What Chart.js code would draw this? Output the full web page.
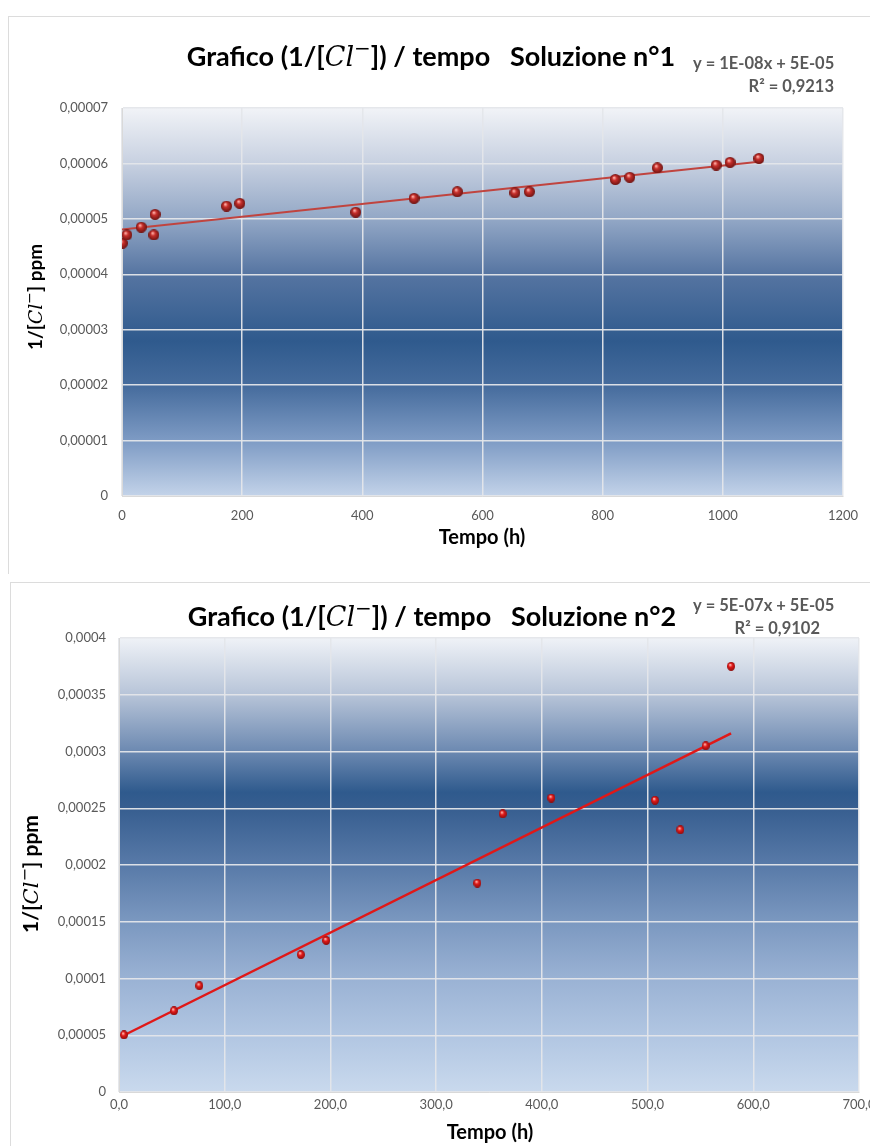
<!DOCTYPE html>
<html lang="it">
<head>
<meta charset="UTF-8">
<title>Grafico 1/[Cl-] / tempo</title>
<script src="https://cdn.jsdelivr.net/npm/chart.js"></script>
<style>
	html, body { margin: 0; padding: 0; background: #fff; overflow: hidden; width: 870px; height: 1146px; }
	.frame { position: absolute; border-top: 1px solid #dcdcdc; border-left: 1px solid #dcdcdc; }
	canvas { position: absolute; left: 0; }
</style>
</head>
<body>
<div class="frame" style="left:8px; top:16px; width:900px; height:557px;"></div>
<div class="frame" style="left:10px; top:582px; width:900px; height:580px;"></div>
<canvas id="chart1" width="890" height="575" style="top:0px"></canvas>
<canvas id="chart2" width="890" height="566" style="top:580px"></canvas>

<script>
// ---- Soluzione n°1 ----
const tempo1 = [0.5, 8, 32, 53, 55, 174, 196, 389, 486, 558, 654, 678, 821, 845, 891, 989, 1012, 1060]
const invCl1 = [0.0000456, 0.0000471, 0.0000485, 0.0000471, 0.0000508, 0.0000523, 0.0000528, 0.0000512, 0.0000537,
	0.0000549, 0.0000547, 0.0000549, 0.0000571, 0.0000575, 0.0000592, 0.0000597, 0.0000602, 0.0000609]
const trendX1 = [0, 1060]
const trendY1 = [0.0000481, 0.0000603]
const xTicks1 = [0, 200, 400, 600, 800, 1000, 1200]
const xLabels1 = ["0", "200", "400", "600", "800", "1000", "1200"]
const yTicks1 = [0, 0.00001, 0.00002, 0.00003, 0.00004, 0.00005, 0.00006, 0.00007]
const yLabels1 = ["0", "0,00001", "0,00002", "0,00003", "0,00004", "0,00005", "0,00006", "0,00007"]
const title1 = ["Grafico (1/[", "]) / tempo   Soluzione n°1"]
const eq1 = ["y = 1E-08x + 5E-05", "R² = 0,9213"]

// ---- Soluzione n°2 ----
const tempo2 = [4.7, 52, 76, 172, 196, 339, 363, 409, 507, 531, 555, 579]
const invCl2 = [0.0000503, 0.0000715, 0.0000936, 0.000121, 0.0001335, 0.000184, 0.000245, 0.000259, 0.000257,
	0.000231, 0.000305, 0.000375]
const trendX2 = [4.7, 579]
const trendY2 = [0.000050, 0.000316]
const xTicks2 = [0, 100, 200, 300, 400, 500, 600, 700]
const xLabels2 = ["0,0", "100,0", "200,0", "300,0", "400,0", "500,0", "600,0", "700,0"]
const yTicks2 = [0, 0.00005, 0.0001, 0.00015, 0.0002, 0.00025, 0.0003, 0.00035, 0.0004]
const yLabels2 = ["0", "0,00005", "0,0001", "0,00015", "0,0002", "0,00025", "0,0003", "0,00035", "0,0004"]
const title2 = ["Grafico (1/[", "]) / tempo   Soluzione n°2"]
const eq2 = ["y = 5E-07x + 5E-05", "R² = 0,9102"]

const yTitle = ["1/[", "] ppm"]
const xTitle = "Tempo (h)"

// shiny red ball used as point marker
function sphere(w, h, mid, dark) {
	const c = document.createElement("canvas")
	c.width = w; c.height = h
	const g = c.getContext("2d")
	const grad = g.createRadialGradient(w * 0.38, h * 0.32, 0.5, w / 2, h / 2, Math.max(w, h) / 2)
	grad.addColorStop(0, "#ffb0a8")
	grad.addColorStop(0.35, mid)
	grad.addColorStop(1, dark)
	g.fillStyle = grad
	g.beginPath()
	g.ellipse(w / 2, h / 2, w / 2, h / 2, 0, 0, Math.PI * 2)
	g.fill()
	return c
}

const plotBg = {
	id: "plotBg",
	beforeDraw(chart, args, opts) {
		const {ctx, chartArea: a} = chart
		const grad = ctx.createLinearGradient(0, a.top, 0, a.bottom)
		opts.stops.forEach(([o, c]) => grad.addColorStop(o, c))
		ctx.save()
		ctx.fillStyle = grad
		ctx.fillRect(a.left, a.top, a.right - a.left, a.bottom - a.top)
		ctx.restore()
	}
}

// text made of pieces in different fonts (the Cl is in math italic)
const richText = {
	id: "richText",
	afterDraw(chart, args, opts) {
		const ctx = chart.ctx
		for (const it of opts.items) {
			ctx.save()
			ctx.translate(it.x, it.y)
			if (it.rot) ctx.rotate(it.rot)
			let w = 0
			for (const s of it.segs) { ctx.font = s.font; w += ctx.measureText(s.t).width }
			let x = it.align === "center" ? -w / 2 : it.align === "right" ? -w : 0
			ctx.fillStyle = it.color || "#000"
			ctx.textBaseline = "alphabetic"
			for (const s of it.segs) {
				ctx.font = s.font
				ctx.fillText(s.t, x, s.dy || 0)
				x += ctx.measureText(s.t).width
			}
			ctx.restore()
		}
	}
}

function clText(parts, size) {
	return [
		{t: parts[0], font: `bold ${size}px Lato`},
		{t: "Cl", font: `italic ${Math.round(size * 1.0)}px 'DejaVu Serif'`},
		{t: "\u2212", font: `${Math.round(size * 0.75)}px 'DejaVu Serif'`, dy: -size * 0.4},
		{t: parts[1], font: `bold ${size}px Lato`}
	]
}

function makeChart(id, cfg) {
	return new Chart(document.getElementById(id), {
		type: "scatter",
		data: {
			datasets: [
				{
					data: cfg.x.map((v, i) => ({x: v, y: cfg.y[i]})),
					pointStyle: cfg.ball,
					pointRadius: 5
				},
				{
					data: cfg.tx.map((v, i) => ({x: v, y: cfg.ty[i]})),
					showLine: true,
					pointRadius: 0,
					borderColor: cfg.lineColor,
					borderWidth: cfg.lineWidth
				}
			]
		},
		options: {
			responsive: false,
			animation: false,
			layout: {padding: cfg.padding},
			scales: {
				x: {
					type: "linear",
					min: cfg.xTicks[0],
					max: cfg.xTicks.at(-1),
					afterBuildTicks: s => { s.ticks = cfg.xTicks.map(v => ({value: v})) },
					afterFit: s => { s.height = cfg.xHeight },
					ticks: {
						callback: (v, i) => cfg.xLabels[i],
						color: "#595959",
						font: {family: "Lato", size: 13},
						padding: cfg.xPad,
						maxRotation: 0
					},
					grid: {color: "rgba(228,230,234,0.95)", lineWidth: 1.5, drawTicks: false},
					border: {color: "#d9d9d9"}
				},
				y: {
					type: "linear",
					min: cfg.yTicks[0],
					max: cfg.yTicks.at(-1),
					afterBuildTicks: s => { s.ticks = cfg.yTicks.map(v => ({value: v})) },
					afterFit: s => { s.width = cfg.yWidth },
					ticks: {
						callback: (v, i) => cfg.yLabels[i],
						color: "#595959",
						font: {family: "Lato", size: 13},
						padding: cfg.yPad
					},
					grid: {color: "rgba(228,230,234,0.95)", lineWidth: 1.5, drawTicks: false},
					border: {color: "#d9d9d9"}
				}
			},
			plugins: {
				legend: {display: false},
				tooltip: {enabled: false},
				plotBg: {stops: cfg.bg},
				richText: {items: cfg.texts}
			}
		},
		plugins: [plotBg, richText]
	})
}

makeChart("chart1", {
	x: tempo1, y: invCl1, tx: trendX1, ty: trendY1,
	xTicks: xTicks1, xLabels: xLabels1, yTicks: yTicks1, yLabels: yLabels1,
	ball: sphere(11, 11, "#c8302c", "#6e1210"),
	lineColor: "#c0443f", lineWidth: 2,
	padding: {top: 108, right: 47, left: 0, bottom: 0},
	xHeight: 79, yWidth: 122, xPad: 12, yPad: 14,
	bg: [[0, "#f1f3f7"], [0.14, "#c8d1e1"], [0.29, "#91a6c5"], [0.43, "#5574a1"], [0.6, "#2f5a8d"],
		[0.72, "#476d9e"], [0.86, "#7f9cc5"], [1, "#c3d3e9"]],
	texts: [
		{x: 431, y: 66, align: "center", segs: clText(title1, 27)},
		{x: 693, y: 69, align: "left", color: "#595959", segs: [{t: eq1[0], font: "bold 16.5px Lato"}]},
		{x: 834, y: 92, align: "right", color: "#595959", segs: [{t: eq1[1], font: "bold 16.5px Lato"}]},
		{x: 42, y: 297, rot: -Math.PI / 2, align: "center", segs: clText(yTitle, 19)},
		{x: 482, y: 544, align: "center", segs: [{t: xTitle, font: "bold 20px Lato"}]}
	]
})

makeChart("chart2", {
	x: tempo2, y: invCl2, tx: trendX2, ty: trendY2,
	xTicks: xTicks2, xLabels: xLabels2, yTicks: yTicks2, yLabels: yLabels2,
	ball: sphere(8, 9, "#e41a1a", "#8a0a0a"),
	lineColor: "#e01818", lineWidth: 2.5,
	padding: {top: 58, right: 31, left: 0, bottom: 0},
	xHeight: 54, yWidth: 119, xPad: 5, yPad: 13,
	bg: [[0, "#eff2f7"], [0.125, "#b7c4d8"], [0.25, "#6c89b1"], [0.34, "#2f5a8d"], [0.375, "#375e90"],
		[0.5, "#587aa8"], [0.625, "#7b98c0"], [0.75, "#9ab2d4"], [0.875, "#b1c6e2"], [1, "#c9d9ed"]],
	texts: [
		{x: 432, y: 46, align: "center", segs: clText(title2, 27)},
		{x: 693, y: 31, align: "left", color: "#595959", segs: [{t: eq2[0], font: "bold 16.5px Lato"}]},
		{x: 820, y: 54, align: "right", color: "#595959", segs: [{t: eq2[1], font: "bold 16.5px Lato"}]},
		{x: 38, y: 294, rot: -Math.PI / 2, align: "center", segs: clText(yTitle, 21)},
		{x: 490, y: 559, align: "center", segs: [{t: xTitle, font: "bold 20px Lato"}]}
	]
})
</script>
</body>
</html>
